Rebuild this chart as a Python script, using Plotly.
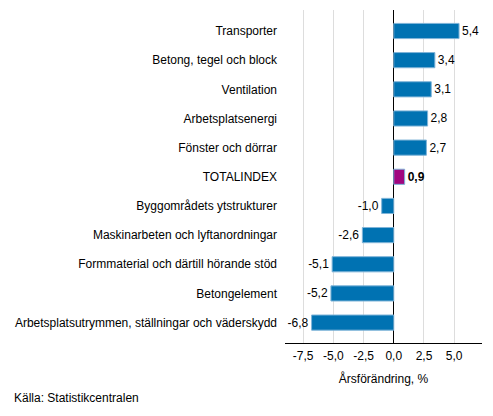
import plotly.graph_objects as go

categories = [
    "Transporter",
    "Betong, tegel och block",
    "Ventilation",
    "Arbetsplatsenergi",
    "Fönster och dörrar",
    "TOTALINDEX",
    "Byggområdets ytstrukturer",
    "Maskinarbeten och lyftanordningar",
    "Formmaterial och därtill hörande stöd",
    "Betongelement",
    "Arbetsplatsutrymmen, ställningar och väderskydd",
]
values = [5.4, 3.4, 3.1, 2.8, 2.7, 0.9, -1.0, -2.6, -5.1, -5.2, -6.8]
tick_vals = [-7.5, -5.0, -2.5, 0.0, 2.5, 5.0]
tick_text = ["-7,5", "-5,0", "-2,5", "0,0", "2,5", "5,0"]

BLUE = "#0072b2"
PURPLE = "#a0067f"

colors = [PURPLE if c == "TOTALINDEX" else BLUE for c in categories]
labels = [
    f"<b>{v:.1f}</b>".replace(".", ",") if c == "TOTALINDEX" else f"{v:.1f}".replace(".", ",")
    for c, v in zip(categories, values)
]

fig = go.Figure(go.Bar(
    x=values,
    y=categories,
    orientation="h",
    width=0.52,
    marker=dict(color=colors, line=dict(color="#7fb4d8", width=1)),
    text=labels,
    textposition="outside",
    textfont=dict(size=12, color="#000000"),
    cliponaxis=False,
))

# the page body adds an 8px offset, so the figure is 8px smaller on each side
fig.update_layout(
    width=485,
    height=408,
    margin=dict(l=277, r=11, t=2, b=73),
    plot_bgcolor="white",
    paper_bgcolor="white",
    font=dict(family="Liberation Sans, Arial, sans-serif", size=12, color="#000000"),
    showlegend=False,
)

fig.update_xaxes(
    range=[-9.0, 7.3],
    tickvals=tick_vals,
    ticktext=tick_text,
    showgrid=True,
    gridcolor="#dddddd",
    gridwidth=1,
    zeroline=True,
    zerolinecolor="#000000",
    zerolinewidth=1.2,
    showline=True,
    linecolor="#000000",
    linewidth=1,
    ticks="",
    ticklen=0,
    ticklabelstandoff=2,
    automargin=False,
    title=dict(text="Årsförändring, %", standoff=12, font=dict(size=12)),
)

fig.update_yaxes(
    categoryorder="array",
    categoryarray=categories[::-1],
    range=[-0.7, 10.72],
    showgrid=False,
    ticks="",
    ticklen=0,
    ticklabelstandoff=7,
    automargin=False,
)

fig.add_annotation(
    text="Källa: Statistikcentralen",
    xref="paper", yref="paper",
    x=-273 / 197, y=-0.137,
    xanchor="left", yanchor="top",
    showarrow=False,
    font=dict(size=12),
)

fig.write_html("out.html")
